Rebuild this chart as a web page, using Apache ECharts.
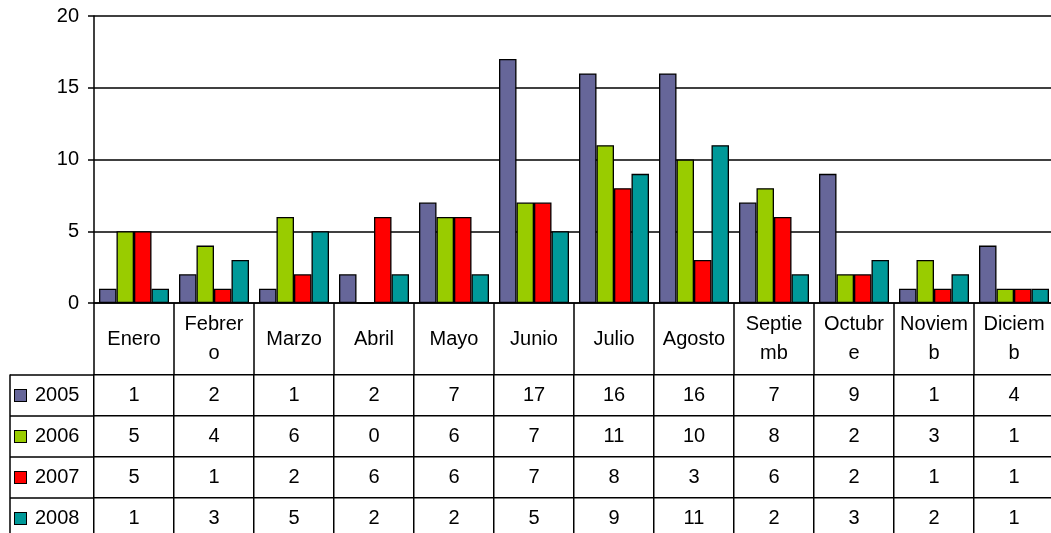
<!DOCTYPE html>
<html>
<head>
<meta charset="utf-8">
<script src="https://cdn.jsdelivr.net/npm/echarts@6/dist/echarts.min.js"></script>
<style>
html,body{margin:0;padding:0;background:#fff;}
#c{width:1051px;height:533px;}
</style>
</head>
<body>
<div id="c"></div>
<script>
var months = ['Enero', 'Febrer\no', 'Marzo', 'Abril', 'Mayo', 'Junio', 'Julio', 'Agosto', 'Septie\nmb', 'Octubr\ne', 'Noviem\nb', 'Diciem\nb'];
var years = ['2005', '2006', '2007', '2008'];
var v2005 = [1, 2, 1, 2, 7, 17, 16, 16, 7, 9, 1, 4];
var v2006 = [5, 4, 6, 0, 6, 7, 11, 10, 8, 2, 3, 1];
var v2007 = [5, 1, 2, 6, 6, 7, 8, 3, 6, 2, 1, 1];
var v2008 = [1, 3, 5, 2, 2, 5, 9, 11, 2, 3, 2, 1];
var yTicks = [0, 5, 10, 15, 20];

var colors = ['#666699', '#99CC00', '#FF0000', '#009999'];
var seriesValues = [v2005, v2006, v2007, v2008];
var FONT = "'Liberation Sans', Arial, sans-serif";
var FS = 20;

var tableData = [];
seriesValues.forEach(function (arr, r) {
  arr.forEach(function (v, c) { tableData.push([c, r, v]); });
});

var rich = {t: {fontSize: FS, fontFamily: FONT, color: '#000', padding: [0, 0, 0, 9]}};
colors.forEach(function (col, i) {
  rich['s' + i] = {width: 11, height: 11, backgroundColor: col, borderColor: '#000', borderWidth: 1};
});

var series = years.map(function (y, i) {
  return {
    name: y, type: 'bar', xAxisIndex: 0, yAxisIndex: 0,
    data: seriesValues[i],
    barGap: '0%', barCategoryGap: '12.5%',
    itemStyle: {color: colors[i], borderColor: '#000', borderWidth: 1.3},
    emphasis: {disabled: true}
  };
});
series.push({
  type: 'heatmap', xAxisIndex: 1, yAxisIndex: 1,
  data: tableData,
  itemStyle: {color: '#fff', borderColor: '#000', borderWidth: 1.5},
  label: {show: true, fontSize: FS, fontFamily: FONT, color: '#000'},
  emphasis: {disabled: true}
});

var chart = echarts.init(document.getElementById('c'));
chart.setOption({
  animation: false,
  backgroundColor: '#fff',
  textStyle: {fontFamily: FONT},
  grid: [
    {left: 94, width: 960, top: 16, height: 287, containLabel: false, outerBoundsMode: 'none'},
    {left: 94, width: 960, top: 375, height: 164, containLabel: false, outerBoundsMode: 'none'}
  ],
  xAxis: [
    {
      type: 'category', gridIndex: 0, data: months, position: 'bottom',
      axisLine: {show: true, lineStyle: {color: '#000', width: 1.5}},
      axisTick: {show: true, length: 72, interval: 0, lineStyle: {color: '#000', width: 1.5}},
      axisLabel: {interval: 0, fontSize: FS, fontFamily: FONT, color: '#000', margin: 36, verticalAlign: 'middle', lineHeight: 29},
      splitLine: {show: false}
    },
    {
      type: 'category', gridIndex: 1, data: months,
      axisLine: {show: false}, axisTick: {show: false}, axisLabel: {show: false}, splitLine: {show: false}
    }
  ],
  yAxis: [
    {
      type: 'value', gridIndex: 0, min: yTicks[0], max: yTicks[yTicks.length - 1], interval: 5,
      axisLine: {show: true, lineStyle: {color: '#000', width: 1.5}},
      axisTick: {show: true, length: 6, lineStyle: {color: '#000', width: 1.5}},
      axisLabel: {fontSize: FS, fontFamily: FONT, color: '#000', margin: 15},
      splitLine: {show: true, lineStyle: {color: '#000', width: 1.5}}
    },
    {
      type: 'category', gridIndex: 1, data: years, inverse: true,
      axisLine: {show: true, lineStyle: {color: '#000', width: 1.5}},
      axisTick: {show: true, length: 84, interval: 0, lineStyle: {color: '#000', width: 1.5}},
      axisLabel: {
        interval: 0, align: 'left', margin: 79,
        formatter: function (val, idx) { return '{s' + idx + '|}{t|' + val + '}'; },
        rich: rich
      },
      splitLine: {show: false}
    },
    {
      type: 'category', gridIndex: 1, data: years, inverse: true, position: 'left', offset: 84,
      axisLine: {show: true, lineStyle: {color: '#000', width: 1.5}},
      axisTick: {show: false}, axisLabel: {show: false}, splitLine: {show: false}
    }
  ],
  series: series
});
</script>
</body>
</html>
